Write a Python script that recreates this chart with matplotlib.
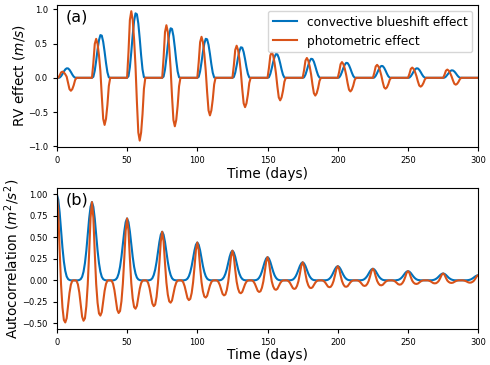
import numpy as np
import matplotlib
matplotlib.use('Agg')
import matplotlib.pyplot as plt

# daily samples, t = 0..300 days (one row per 25-day rotation)
days = np.arange(301)

# (a) RV effect (m/s)
cb_rv = [
    0, 0, .003, .023, .055, .092, .122, .138, .137, .117, .085, .048, .018, .002, 0, 0, 0, 0, 0, 0, 0, 0, 0, 0, 0,
    0, .015, .104, .249, .413, .548, .623, .615, .525, .381, .217, .081, .007, 0, 0, 0, 0, 0, 0, 0, 0, 0, 0, 0, 0,
    0, .023, .157, .376, .622, .827, .940, .927, .792, .575, .328, .122, .010, 0, 0, 0, 0, 0, 0, 0, 0, 0, 0, 0, 0,
    0, .018, .120, .289, .478, .635, .722, .712, .609, .442, .252, .093, .008, 0, 0, 0, 0, 0, 0, 0, 0, 0, 0, 0, 0,
    0, .014, .095, .228, .377, .500, .569, .561, .480, .348, .198, .074, .006, 0, 0, 0, 0, 0, 0, 0, 0, 0, 0, 0, 0,
    0, .011, .074, .178, .295, .392, .445, .439, .375, .272, .155, .058, .005, 0, 0, 0, 0, 0, 0, 0, 0, 0, 0, 0, 0,
    0, .008, .058, .139, .229, .305, .346, .342, .292, .212, .121, .045, .004, 0, 0, 0, 0, 0, 0, 0, 0, 0, 0, 0, 0,
    0, .007, .046, .111, .183, .244, .277, .273, .234, .169, .097, .036, .003, 0, 0, 0, 0, 0, 0, 0, 0, 0, 0, 0, 0,
    0, .005, .036, .087, .144, .191, .218, .215, .183, .133, .076, .028, .002, 0, 0, 0, 0, 0, 0, 0, 0, 0, 0, 0, 0,
    0, .004, .029, .069, .115, .152, .173, .171, .146, .106, .060, .022, .002, 0, 0, 0, 0, 0, 0, 0, 0, 0, 0, 0, 0,
    0, .003, .023, .055, .092, .122, .138, .137, .117, .085, .048, .018, .002, 0, 0, 0, 0, 0, 0, 0, 0, 0, 0, 0, 0,
    0, .003, .018, .044, .072, .096, .109, .107, .092, .067, .038, .014, .001, 0, 0, 0, 0, 0, 0, 0, 0, 0, 0, 0, 0,
    0,
]
ph_rv = [
    0, 0, .034, .078, .090, .078, .052, .016, -.073, -.165, -.189, -.165, -.109, -.033, 0, 0, 0, 0, 0, 0, 0, 0, 0, 0, 0,
    0, .218, .494, .568, .494, .327, .099, -.264, -.598, -.687, -.598, -.396, -.120, 0, 0, 0, 0, 0, 0, 0, 0, 0, 0, 0, 0,
    0, .373, .844, .971, .844, .560, .170, -.352, -.797, -.916, -.797, -.528, -.160, 0, 0, 0, 0, 0, 0, 0, 0, 0, 0, 0, 0,
    0, .295, .667, .767, .667, .442, .134, -.272, -.615, -.707, -.615, -.408, -.124, 0, 0, 0, 0, 0, 0, 0, 0, 0, 0, 0, 0,
    0, .230, .520, .598, .520, .344, .104, -.211, -.476, -.548, -.476, -.316, -.096, 0, 0, 0, 0, 0, 0, 0, 0, 0, 0, 0, 0,
    0, .180, .407, .468, .407, .270, .082, -.165, -.372, -.428, -.372, -.247, -.075, 0, 0, 0, 0, 0, 0, 0, 0, 0, 0, 0, 0,
    0, .144, .325, .374, .325, .215, .065, -.126, -.286, -.329, -.286, -.189, -.057, 0, 0, 0, 0, 0, 0, 0, 0, 0, 0, 0, 0,
    0, .111, .251, .289, .251, .166, .050, -.100, -.225, -.259, -.225, -.149, -.045, 0, 0, 0, 0, 0, 0, 0, 0, 0, 0, 0, 0,
    0, .088, .199, .229, .199, .132, .040, -.077, -.173, -.199, -.173, -.115, -.035, 0, 0, 0, 0, 0, 0, 0, 0, 0, 0, 0, 0,
    0, .073, .165, .189, .165, .109, .033, -.061, -.139, -.159, -.139, -.092, -.028, 0, 0, 0, 0, 0, 0, 0, 0, 0, 0, 0, 0,
    0, .057, .130, .149, .130, .086, .026, -.050, -.113, -.129, -.113, -.075, -.023, 0, 0, 0, 0, 0, 0, 0, 0, 0, 0, 0, 0,
    0, .046, .104, .120, .104, .069, .021, -.038, -.087, -.100, -.087, -.057, -.017, 0, 0, 0, 0, 0, 0, 0, 0, 0, 0, 0, 0,
    0,
]

# (b) autocorrelation (m^2/s^2), rows centred on lags 0, 25, 50, ...
cb_acf = [
    1, .94, .79, .58, .38, .22, .11, .045, .015, .004, 0, 0, 0,
    0, 0, 0, .004, .014, .041, .100, .200, .346, .528, .719, .855, .91, .855, .719, .528, .346, .200, .100, .041, .014, .004, 0, 0, 0,
    0, 0, 0, .003, .011, .032, .079, .158, .274, .418, .569, .677, .72, .677, .569, .418, .274, .158, .079, .032, .011, .003, 0, 0, 0,
    0, 0, 0, .002, .008, .025, .062, .124, .215, .328, .446, .531, .565, .531, .446, .328, .215, .124, .062, .025, .008, .002, 0, 0, 0,
    0, 0, 0, .002, .007, .020, .048, .097, .167, .255, .348, .414, .44, .414, .348, .255, .167, .097, .048, .020, .007, .002, 0, 0, 0,
    0, 0, 0, .001, .005, .016, .038, .076, .131, .200, .273, .324, .345, .324, .273, .200, .131, .076, .038, .016, .005, .001, 0, 0, 0,
    0, 0, 0, .001, .004, .012, .030, .059, .103, .157, .213, .254, .27, .254, .213, .157, .103, .059, .030, .012, .004, .001, 0, 0, 0,
    0, 0, 0, .001, .003, .009, .023, .046, .080, .122, .166, .197, .21, .197, .166, .122, .080, .046, .023, .009, .003, .001, 0, 0, 0,
    0, 0, 0, .001, .002, .007, .018, .036, .063, .096, .130, .155, .165, .155, .130, .096, .063, .036, .018, .007, .002, .001, 0, 0, 0,
    0, 0, 0, .001, .002, .006, .015, .030, .051, .078, .107, .127, .135, .127, .107, .078, .051, .030, .015, .006, .002, .001, 0, 0, 0,
    0, 0, 0, 0, .002, .005, .012, .024, .041, .062, .085, .101, .107, .101, .085, .062, .041, .024, .012, .005, .002, 0, 0, 0, 0,
    0, 0, 0, 0, .001, .004, .009, .018, .030, .046, .063, .075, .08, .075, .063, .046, .030, .018, .009, .004, .001, 0, 0, 0, 0,
    0, 0, 0, 0, .001, .003, .007, .013, .023, .035, .047, .056, .06,
]
ph_acf = [
    1, .8, .35, -.049, -.314, -.461, -.49, -.441, -.294, -.147, -.049, -.005, 0,
    0, -.005, -.047, -.141, -.282, -.423, -.47, -.442, -.301, -.047, .319, .728, .91, .728, .319, -.041, -.262, -.385, -.41, -.369, -.246, -.123, -.041, -.004, 0,
    0, -.004, -.038, -.114, -.228, -.342, -.38, -.357, -.243, -.038, .252, .576, .72, .576, .252, -.033, -.211, -.310, -.33, -.297, -.198, -.099, -.033, -.003, 0,
    0, -.003, -.03, -.09, -.18, -.27, -.30, -.282, -.192, -.03, .198, .452, .565, .452, .198, -.026, -.166, -.244, -.26, -.234, -.156, -.078, -.026, -.003, 0,
    0, -.002, -.023, -.069, -.138, -.207, -.23, -.216, -.147, -.023, .154, .352, .44, .352, .154, -.02, -.128, -.188, -.2, -.18, -.12, -.06, -.02, -.002, 0,
    0, -.002, -.018, -.053, -.105, -.158, -.175, -.165, -.112, -.018, .121, .276, .345, .276, .121, -.015, -.096, -.141, -.15, -.135, -.09, -.045, -.015, -.002, 0,
    0, -.001, -.014, -.041, -.081, -.122, -.135, -.127, -.086, -.014, .095, .216, .27, .216, .095, -.011, -.07, -.103, -.11, -.099, -.066, -.033, -.011, -.001, 0,
    0, -.001, -.01, -.03, -.06, -.09, -.10, -.094, -.064, -.01, .074, .168, .21, .168, .074, -.009, -.058, -.085, -.09, -.081, -.054, -.027, -.009, -.001, 0,
    0, -.001, -.008, -.024, -.048, -.072, -.08, -.075, -.051, -.008, .058, .132, .165, .132, .058, -.008, -.048, -.071, -.075, -.068, -.045, -.023, -.008, -.001, 0,
    0, -.001, -.007, -.02, -.039, -.059, -.065, -.061, -.042, -.007, .047, .108, .135, .108, .047, -.006, -.037, -.055, -.058, -.052, -.035, -.017, -.006, -.001, 0,
    0, -.001, -.005, -.015, -.03, -.045, -.05, -.047, -.032, -.005, .037, .086, .107, .086, .037, -.004, -.027, -.039, -.042, -.038, -.025, -.013, -.004, 0, 0,
    0, 0, -.004, -.011, -.021, -.032, -.035, -.033, -.022, -.004, .028, .064, .08, .064, .028, -.003, -.019, -.028, -.03, -.027, -.018, -.009, -.003, 0, 0,
    0, 0, -.003, -.008, -.016, -.024, -.027, -.025, -.017, -.003, .021, .048, .06,
]

xticks = [0, 50, 100, 150, 200, 250, 300]
blue = '#0072BD'
orange = '#D95319'

fig = plt.figure(figsize=(4.9, 3.65), dpi=100)
ax1 = fig.add_axes([0.116, 0.597, 0.86, 0.39])
ax2 = fig.add_axes([0.116, 0.099, 0.86, 0.386])

ax1.plot(days, cb_rv, color=blue, lw=1.5, label='convective blueshift effect')
ax1.plot(days, ph_rv, color=orange, lw=1.5, label='photometric effect')
ax1.set_ylabel('RV effect ($m/s$)', fontsize=9.8)
ax1.yaxis.set_label_coords(-0.071, 0.5)
ax1.set_yticks([-1.0, -0.5, 0.0, 0.5, 1.0])
ax1.legend(loc='upper right', fontsize=8.7)
ax1.text(0.022, 0.965, '(a)', transform=ax1.transAxes, va='top', fontsize=11.5)

ax2.plot(days, cb_acf, color=blue, lw=1.5)
ax2.plot(days, ph_acf, color=orange, lw=1.5)
ax2.set_ylabel('Autocorrelation ($m^2/s^2$)', fontsize=9.8)
ax2.yaxis.set_label_coords(-0.083, 0.5)
ax2.set_yticks([-0.5, -0.25, 0.0, 0.25, 0.5, 0.75, 1.0])
ax2.text(0.022, 0.965, '(b)', transform=ax2.transAxes, va='top', fontsize=11.5)

for ax in (ax1, ax2):
    ax.set_xlim(0, 300)
    ax.set_xticks(xticks)
    ax.set_xlabel('Time (days)', fontsize=9.8, labelpad=1)
    ax.tick_params(labelsize=6, length=3)

fig.savefig('out.png', dpi=100)
